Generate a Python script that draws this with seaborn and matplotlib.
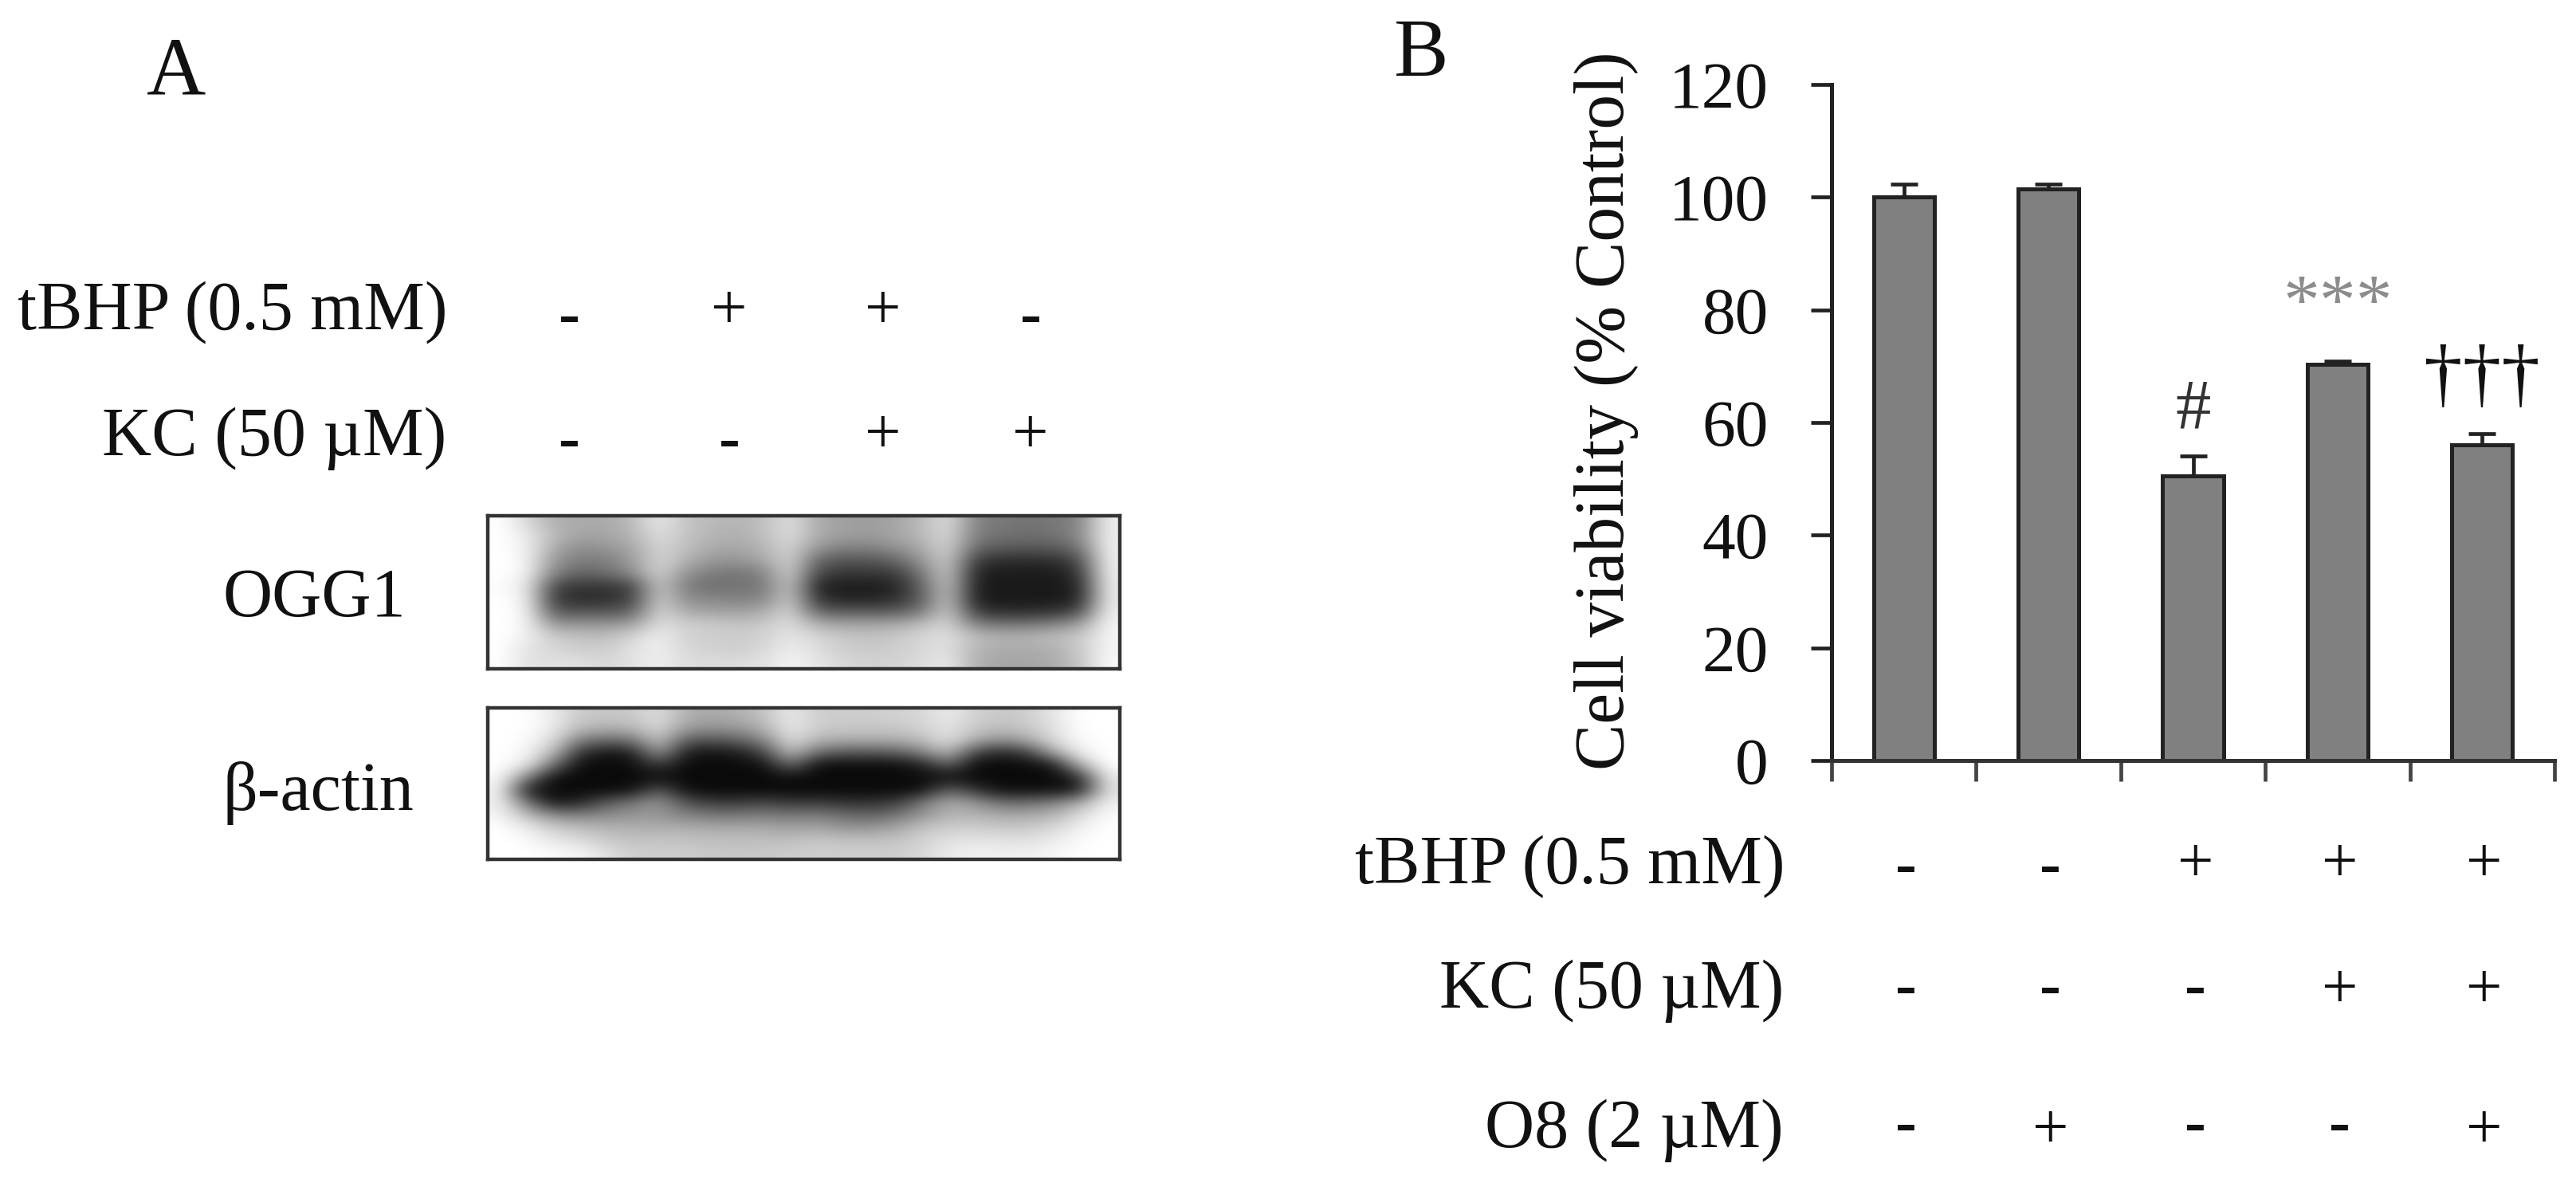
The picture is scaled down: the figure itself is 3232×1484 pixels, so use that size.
import numpy as np
import pandas as pd
import matplotlib
matplotlib.use("Agg")
import matplotlib.pyplot as plt
from matplotlib.transforms import blended_transform_factory
import seaborn as sns

# Panel B values
groups = ["Control", "O8", "tBHP", "tBHP+KC", "tBHP+KC+O8"]
viability = [100, 101.5, 50.5, 70.3, 56]
errors = [2.3, 0.8, 3.6, 0.6, 2.0]
y_ticks = [0, 20, 40, 60, 80, 100, 120]

tbhp_b = ["-", "-", "+", "+", "+"]
kc_b = ["-", "-", "-", "+", "+"]
o8_b = ["-", "+", "-", "-", "+"]

# Panel A sign rows
tbhp_a = ["-", "+", "+", "-"]
kc_a = ["-", "-", "+", "+"]

# Blots, grey levels
ogg1 = np.array([
    [255,215,175,170,170,185,235,195,185,180,190,225,170,160,155,165,185,225,130,120,115,120,130,240],
    [255,235,185,165,165,180,225,195,180,175,190,225,170,160,155,165,185,220,125,115,110,115,135,240],
    [255,240,170,140,150,165,215,190,170,165,180,215,150,130,130,145,170,215,105,90,90,90,115,240],
    [255,245,150,125,125,155,215,180,150,150,165,215,100,85,85,100,150,210,60,45,45,45,75,240],
    [255,245,130,100,110,140,215,145,125,115,130,215,70,55,55,60,120,210,35,28,28,28,50,240],
    [250,235,70,55,55,65,205,125,110,115,120,205,35,28,28,35,100,205,30,25,25,25,35,235],
    [255,240,60,40,45,65,210,140,135,130,130,210,50,35,35,45,95,205,28,25,25,25,35,235],
    [255,245,85,85,85,95,215,170,160,160,170,215,100,90,90,90,120,210,60,45,45,50,75,240],
    [255,245,150,150,150,160,225,205,205,195,200,225,175,165,165,170,190,215,130,115,120,130,160,245],
    [255,240,205,195,190,215,240,210,205,205,210,230,215,200,195,200,215,225,190,180,180,190,200,245],
    [255,225,215,205,205,225,240,215,210,205,215,240,220,205,200,205,215,225,180,170,170,175,200,245],
    [255,225,225,225,215,225,240,220,220,220,225,245,230,215,210,210,220,235,175,165,165,170,195,250],
])
actin = np.array([
    [255,255,235,200,200,200,225,175,170,175,195,235,205,205,205,210,215,235,210,200,205,230,255,255],
    [255,255,235,190,180,185,220,160,150,155,180,235,205,200,200,200,210,230,200,190,200,225,255,255],
    [255,250,220,130,110,120,200,95,90,100,135,225,180,175,175,175,190,225,175,150,170,220,250,255],
    [255,245,190,50,25,30,160,30,20,30,70,195,110,90,90,95,130,190,70,40,65,170,240,255],
    [255,235,110,12,10,12,60,12,10,12,15,110,14,12,12,14,30,100,12,10,12,25,180,255],
    [250,130,14,10,10,10,14,10,10,10,10,14,10,10,10,10,12,14,10,10,10,10,40,235],
    [245,25,10,10,10,14,90,14,10,10,10,10,10,10,10,10,14,100,50,14,14,14,30,225],
    [240,120,20,40,90,120,150,85,60,60,70,55,60,50,50,60,120,170,150,110,110,130,170,240],
    [245,190,140,130,140,150,150,130,120,120,125,120,125,110,100,115,150,180,180,170,170,180,220,250],
    [255,235,205,190,180,175,175,175,170,170,170,160,165,150,150,165,195,205,205,200,200,215,240,255],
    [255,250,230,220,200,195,195,195,190,190,190,190,200,195,195,195,210,225,230,225,225,235,250,255],
    [255,255,250,245,225,205,205,205,200,200,200,205,205,205,205,205,215,235,240,240,240,245,255,255],
])

W, H = 3232, 1484

sns.set_style("white")
plt.rcParams['font.family'] = ['Liberation Serif', 'DejaVu Sans']

fig = plt.figure(figsize=(W / 100, H / 100), dpi=100)


def box(x0, y0, x1, y1):
    return [x0 / W, 1 - y1 / H, (x1 - x0) / W, (y1 - y0) / H]


def ftext(x, y, s, size, ha="center", **kw):
    fig.text(x / W, 1 - y / H, s, fontsize=size, ha=ha, va="center", color="#111111", **kw)


# Panel B
ax = fig.add_axes(box(2298, 106, 3205, 954))
df = pd.DataFrame({"group": groups, "viability": viability})
sns.barplot(data=df, x="group", y="viability", color="#808080", saturation=1,
            width=0.42, edgecolor="#222222", linewidth=3.6, errorbar=None, ax=ax)
ax.errorbar(range(len(groups)), viability, yerr=[[0] * 5, errors], fmt="none",
            ecolor="#222222", elinewidth=3.4, capsize=12, capthick=3.4)

ax.set_xlim(-0.5, 4.5)
ax.set_ylim(0, 120)
ax.set_xlabel("")
ax.set_ylabel("")
ax.set_yticks(y_ticks)
ax.set_xticks(np.arange(-0.5, 5, 1))
ax.set_xticklabels([])
ax.tick_params(axis="y", length=19, width=3.4, color="#222222", labelsize=60, pad=38,
               labelcolor="#111111", left=True)
ax.tick_params(axis="x", length=19, width=3.4, color="#444444", bottom=True)
sns.despine(ax=ax)
ax.spines["left"].set_linewidth(3.6)
ax.spines["bottom"].set_linewidth(3.6)
ax.spines["left"].set_color("#222222")
ax.spines["bottom"].set_color("#333333")

ax.text(2, 62.1, "#", fontsize=64, ha="center", va="center", color="#333333")
ax.text(3, 80.5, "***", fontsize=66, ha="center", va="center", color="#8c8c8c")
ax.text(4, 67.5, "†††", fontsize=70, ha="center", va="center", color="#111111")

# sign rows under the bars follow the bar positions
tr = blended_transform_factory(ax.transData, fig.transFigure)
for row, y_plus, y_minus in zip([tbhp_b, kc_b, o8_b], [1086, 1244, 1420], [1090, 1242, 1414]):
    for i, s in enumerate(row):
        if s == "+":
            ax.text(i + 0.015, 1 - y_plus / H, s, transform=tr, fontsize=58, ha="center",
                    va="center", color="#111111", clip_on=False)
        else:
            ax.text(i + 0.015, 1 - y_minus / H, s, transform=tr, fontsize=58, ha="center",
                    va="center", color="#111111", fontweight="bold", clip_on=False)

ftext(2240, 1087, "tBHP (0.5 mM)", 62, ha="right")
ftext(2238, 1243, "KC (50 µM)", 62, ha="right")
ftext(2238, 1418, "O8 (2 µM)", 62, ha="right")
ftext(2016, 515, "Cell viability (% Control)", 63, rotation=90)
ftext(1783, 70, "B", 74)

# Panel A
for data, pos in [(ogg1, (612, 647, 1405, 839)), (actin, (612, 888, 1405, 1078))]:
    a = fig.add_axes(box(*pos))
    a.imshow(data, cmap="gray", vmin=0, vmax=255, aspect="auto", interpolation="bicubic")
    a.set_xticks([])
    a.set_yticks([])
    for sp in a.spines.values():
        sp.set_linewidth(3.2)
        sp.set_color("#333333")

sign_x_a = [714, 915, 1108, 1293]
for row, y in zip([tbhp_a, kc_a], [392, 549]):
    for x, s in zip(sign_x_a, row):
        if s == "+":
            ftext(x, y, s, 58)
        else:
            ftext(x, y + 8, s, 58, fontweight="bold")

ftext(562, 392, "tBHP (0.5 mM)", 62, ha="right")
ftext(560, 550, "KC (50 µM)", 62, ha="right")
ftext(394, 752, "OGG1", 62)
ftext(399, 995, "β-actin", 62)
ftext(221, 94, "A", 74)

fig.savefig("out.png", dpi=100)
